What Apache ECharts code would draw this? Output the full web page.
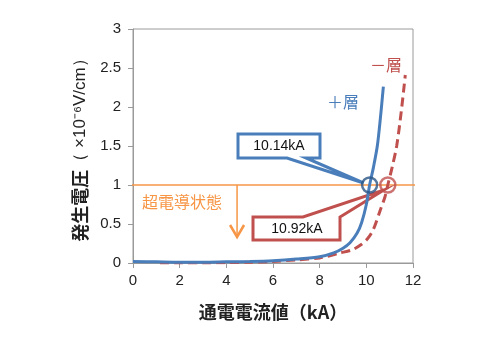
<!DOCTYPE html>
<html>
<head>
<meta charset="utf-8">
<script src="https://cdn.jsdelivr.net/npm/echarts@6/dist/echarts.min.js"></script>
<style>
  html, body { margin: 0; padding: 0; background: #fff; }
  #chart { width: 490px; height: 352px; }
</style>
</head>
<body>
<div id="chart"></div>
<script>
// --- データ ---
const plusX = [0, 1, 2, 3, 4, 5, 6, 7, 8, 8.6, 9, 9.3, 9.6, 9.8, 10, 10.14, 10.3, 10.47, 10.6, 10.73];
const plusY = [0.02, 0.015, 0.01, 0.01, 0.015, 0.02, 0.03, 0.05, 0.08, 0.13, 0.19, 0.26, 0.38, 0.52, 0.75, 1.0, 1.22, 1.5, 1.85, 2.26];
const minusX = [1.16, 2, 3, 4, 5, 6, 7, 8, 8.9, 9.4, 9.75, 10.05, 10.3, 10.6, 10.8, 10.92, 11.1, 11.3, 11.5, 11.67];
const minusY = [0, 0, 0, 0.005, 0.01, 0.02, 0.04, 0.065, 0.13, 0.17, 0.23, 0.31, 0.43, 0.68, 0.85, 1.0, 1.22, 1.5, 1.95, 2.41];
const critical = [[10.14, 1], [10.92, 1]];
const criticalLabels = ['10.14kA', '10.92kA'];
const thresholdLine = [[-0.47, 1], [12.43, 1]];

const BLUE = '#4a7ebb';
const RED = '#c0504d';
const ORANGE = '#f79646';
const latin = '"Liberation Sans", Arial, sans-serif';
const jp = '"Noto Sans CJK JP", sans-serif';

const chart = echarts.init(document.getElementById('chart'));

const zip = (xs, ys) => xs.map((x, i) => [x, ys[i]]);

chart.setOption({
    animation: false,
    grid: { left: 133, right: 77, top: 29, bottom: 89, show: true, borderColor: '#9a9a9a', borderWidth: 1 },
    xAxis: {
        type: 'value', min: 0, max: 12, interval: 2,
        name: '通電電流値（kA）', nameLocation: 'middle', nameGap: 40,
        nameTextStyle: { fontFamily: jp, fontSize: 18, fontWeight: 'bold', color: '#222' },
        axisLine: { show: true, lineStyle: { color: '#9a9a9a' } },
        axisTick: { show: true, length: 5, lineStyle: { color: '#9a9a9a' } },
        axisLabel: { fontFamily: latin, fontSize: 15, color: '#222', margin: 10 },
        splitLine: { show: false }
    },
    yAxis: {
        type: 'value', min: 0, max: 3, interval: 0.5,
        name: '{b|発生電圧}{n|（ ×10⁻⁶V/cm）}', nameLocation: 'middle', nameGap: 43, nameRotate: 90,
        nameTextStyle: {
            rich: {
                b: { fontFamily: jp, fontSize: 18, fontWeight: 'bold', color: '#222' },
                n: { fontFamily: latin, fontSize: 17, color: '#222' }
            }
        },
        axisLine: { show: true, lineStyle: { color: '#9a9a9a' } },
        axisTick: { show: true, length: 5, lineStyle: { color: '#9a9a9a' } },
        axisLabel: { fontFamily: latin, fontSize: 15, color: '#222', margin: 12 },
        splitLine: { show: false }
    },
    series: [
        {
            type: 'line', data: thresholdLine, symbol: 'none', clip: false, z: 1,
            lineStyle: { color: ORANGE, width: 1.5 }
        },
        {
            type: 'line', data: zip(plusX, plusY), symbol: 'none', smooth: 0.3, z: 4,
            lineStyle: { color: BLUE, width: 3 }
        },
        {
            type: 'line', data: zip(minusX, minusY), symbol: 'none', smooth: 0.3, z: 3,
            lineStyle: { color: RED, width: 3, type: [9, 5] }
        },
        {
            type: 'scatter', data: [critical[0]], symbol: 'circle', symbolSize: 15, z: 5,
            itemStyle: { color: 'rgba(0,0,0,0)', borderColor: '#2a5586', borderWidth: 2.5 }
        },
        {
            type: 'scatter', data: [critical[1]], symbol: 'circle', symbolSize: 15, z: 5,
            itemStyle: { color: 'rgba(0,0,0,0)', borderColor: RED, borderWidth: 2.5 }
        }
    ]
});

// --- 注釈 ---
const tipB = chart.convertToPixel({ gridIndex: 0 }, critical[0]);
const tipR = chart.convertToPixel({ gridIndex: 0 }, critical[1]);
const arrowTop = chart.convertToPixel({ gridIndex: 0 }, [4.46, 1]);

chart.setOption({
    graphic: [
        {
            type: 'polygon', z: 2,
            shape: { points: [[238, 134], [320, 134], [320, 158], [306, 158], [tipB[0] - 6, tipB[1] - 2], [287, 158], [238, 158]] },
            style: { fill: '#fff', stroke: BLUE, lineWidth: 3 }
        },
        {
            type: 'text', z: 3, x: 279, y: 146,
            style: { text: criticalLabels[0], font: '14px ' + latin, fill: '#111', align: 'center', verticalAlign: 'middle' }
        },
        {
            type: 'polygon', z: 2,
            shape: { points: [[253, 217], [303, 217], [tipR[0] - 4, tipR[1] + 5], [340, 217], [340, 240], [253, 240]] },
            style: { fill: '#fff', stroke: RED, lineWidth: 3 }
        },
        {
            type: 'text', z: 3, x: 297, y: 229,
            style: { text: criticalLabels[1], font: '14px ' + latin, fill: '#111', align: 'center', verticalAlign: 'middle' }
        },
        {
            type: 'text', x: 182, y: 202,
            style: { text: '超電導状態', font: '16px ' + jp, fill: ORANGE, align: 'center', verticalAlign: 'middle' }
        },
        {
            type: 'polyline',
            shape: { points: [[arrowTop[0], arrowTop[1]], [arrowTop[0], 237]] },
            style: { stroke: ORANGE, lineWidth: 1.5 }
        },
        {
            type: 'polyline',
            shape: { points: [[arrowTop[0] - 7, 225], [arrowTop[0], 237], [arrowTop[0] + 7, 225]] },
            style: { stroke: ORANGE, lineWidth: 2.5, fill: null }
        },
        {
            type: 'text', x: 343, y: 102,
            style: { text: '＋層', font: '16px ' + jp, fill: BLUE, align: 'center', verticalAlign: 'middle' }
        },
        {
            type: 'text', x: 386, y: 65,
            style: { text: '－層', font: '16px ' + jp, fill: RED, align: 'center', verticalAlign: 'middle' }
        }
    ]
});
</script>
</body>
</html>
